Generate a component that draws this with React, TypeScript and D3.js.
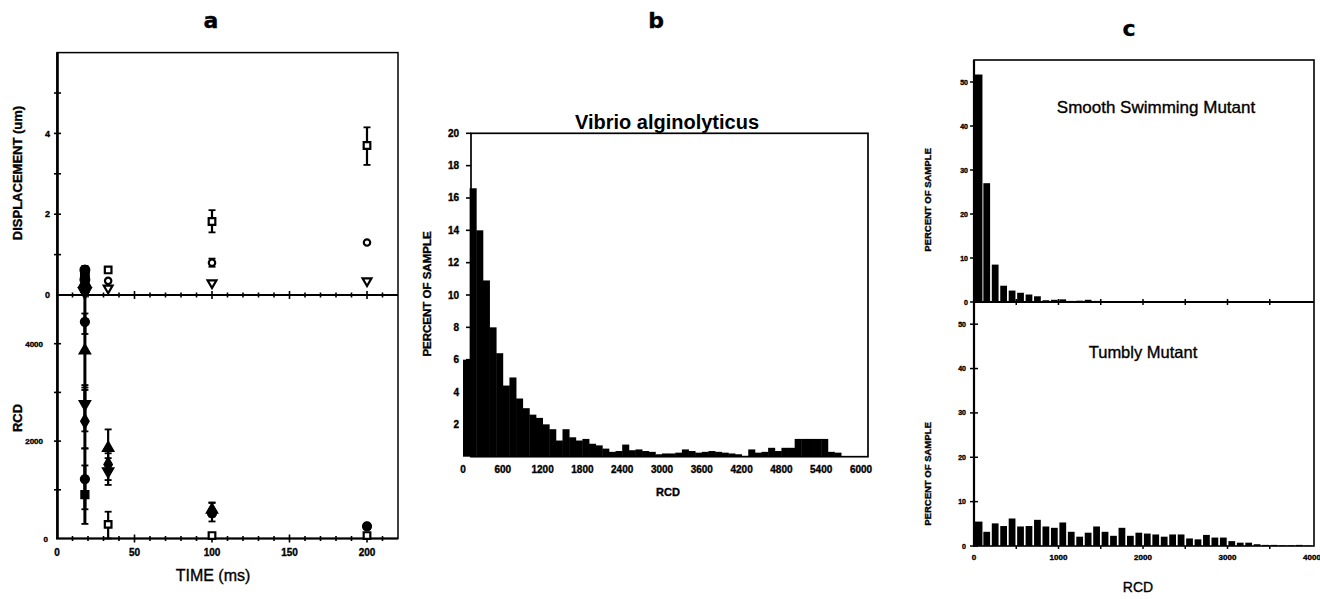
import React from 'react';
import * as d3 from 'd3';

// ---------- Panel a data ----------
const timeTicks = [0, 50, 100, 150, 200];
const timeMinorTicks = d3.range(10, 220, 10);
const dispTickLabels = [0, 2, 4];
const dispTicksAll = [1, 2, 3, 4, 5];
const rcdTickLabelsA = [0, 2000, 4000];
const rcdTicksAll = [1000, 2000, 3000, 4000];

// displacement, early filled cluster at t = 18 ms
const dispClusterT = [18, 18, 18, 18, 18, 18];
const dispClusterV = [0.62, 0.5, 0.38, 0.28, 0.18, 0.08];
const dispClusterShape = ['circle', 'square', 'circle', 'triangle', 'square', 'triangleDown'];
const dispClusterLo = [0, 0, 0, 0, 0, 0];
const dispClusterHi = [0.72, 0.6, 0.45, 0.35, 0.25, 0.12];

// displacement, open symbols
const dispSqT = [33, 100, 200];
const dispSqV = [0.62, 1.82, 3.7];
const dispSqLo = [0.62, 1.55, 3.22];
const dispSqHi = [0.62, 2.1, 4.15];
const dispCircT = [33, 100, 200];
const dispCircV = [0.35, 0.8, 1.3];
const dispCircLo = [0.35, 0.7, 1.3];
const dispCircHi = [0.35, 0.9, 1.3];
const dispTriT = [33, 100, 200];
const dispTriV = [0.17, 0.3, 0.35];

// RCD, filled symbols
const rcdCircT = [18, 18, 100, 200];
const rcdCircV = [4450, 1220, 520, 250];
const rcdCircLo = [4200, 600, 350, 200];
const rcdCircHi = [5000, 1850, 730, 300];
const rcdTriT = [18, 33, 100];
const rcdTriV = [3860, 1860, 590];
const rcdTriLo = [3100, 1500, 450];
const rcdTriHi = [4620, 2240, 740];
const rcdTriDT = [18, 33];
const rcdTriDV = [2760, 1380];
const rcdTriDLo = [2200, 1100];
const rcdTriDHi = [3150, 1650];
const rcdDiaT = [18, 33];
const rcdDiaV = [2410, 1520];
const rcdDiaLo = [1850, 1200];
const rcdDiaHi = [3050, 1750];
const rcdSqFT = [18];
const rcdSqFV = [900];
const rcdSqFLo = [300];
const rcdSqFHi = [1500];
// RCD, open squares
const rcdSqT = [33, 100, 200];
const rcdSqV = [290, 60, 60];
const rcdSqLo = [0, 0, 0];
const rcdSqHi = [550, 110, 110];

// ---------- Panel b data ----------
const vibrioTickLabelsX = [0, 600, 1200, 1800, 2400, 3000, 3600, 4200, 4800, 5400, 6000];
const vibrioTickLabelsY = [2, 4, 6, 8, 10, 12, 14, 16, 18, 20];
const vibrioBinWidth = 100;
const vibrioPercent = [
  6.0, 16.6, 14.0, 10.9, 8.0, 6.4, 4.4, 4.9, 3.6, 3.0,
  2.6, 2.4, 2.0, 1.7, 1.0, 1.7, 1.2, 1.0, 1.1, 0.8,
  0.7, 0.5, 0.3, 0.35, 0.75, 0.4, 0.45, 0.35, 0.3, 0.15,
  0.2, 0.2, 0.25, 0.45, 0.35, 0.25, 0.3, 0.35, 0.3, 0.25,
  0.2, 0.15, 0.05, 0.45, 0.25, 0.3, 0.55, 0.35, 0.55, 0.55,
  1.1, 1.1, 1.1, 1.1, 1.1, 0.3, 0.25,
];

// ---------- Panel c data ----------
const mutantTickLabelsX = [0, 1000, 2000, 3000, 4000];
const mutantTicksX = [500, 1000, 1500, 2000, 2500, 3000, 3500];
const mutantTickLabelsY = [0, 10, 20, 30, 40, 50];
const mutantBinWidth = 100;
const smoothPercent = [
  51.7, 27.0, 8.5, 3.7, 2.6, 2.1, 1.7, 1.3, 0.4, 0.5,
  0.6, 0.25, 0.3, 0.5, 0.25, 0.15, 0.1, 0.1, 0.05, 0.05,
];
const tumblyPercent = [
  5.5, 3.2, 5.1, 4.5, 6.2, 4.4, 4.5, 5.9, 4.4, 4.1,
  5.3, 3.2, 2.1, 3.0, 4.4, 3.2, 2.3, 4.1, 2.3, 3.0,
  2.8, 2.6, 2.1, 2.6, 2.6, 1.7, 1.5, 2.5, 1.9, 1.9,
  1.1, 0.75, 0.75, 0.4, 0.25, 0.25, 0.15, 0.15, 0.25, 0.1,
];

const SANS = 'Liberation Sans, Arial, Helvetica, sans-serif';
// slight outline on text to mimic the heavy scanned print
const INK = { stroke: '#000', strokeWidth: 0.35 } as any;

function symPath(shape: string, size: number) {
  const t =
    shape === 'circle' ? d3.symbolCircle :
    shape === 'square' ? d3.symbolSquare :
    shape === 'diamond' ? d3.symbolDiamond : d3.symbolTriangle;
  return d3.symbol().type(t).size(size)() as string;
}

function Marker({ x, y, shape, filled, size = 48 }: any) {
  const rot = shape === 'triangleDown' ? 180 : 0;
  return (
    <path
      d={symPath(shape, size)}
      transform={`translate(${x},${y}) rotate(${rot})`}
      fill={filled ? '#000' : '#fff'}
      stroke="#000"
      strokeWidth={filled ? 1.2 : 2.2}
    />
  );
}

function ErrBar({ x, y1, y2, w = 3.5, sw = 2.2 }: any) {
  if (Math.abs(y1 - y2) < 0.5) return null;
  return (
    <g stroke="#000" strokeWidth={sw}>
      <line x1={x} x2={x} y1={y1} y2={y2} />
      <line x1={x - w} x2={x + w} y1={y1} y2={y1} strokeWidth={1.8} />
      <line x1={x - w} x2={x + w} y1={y2} y2={y2} strokeWidth={1.8} />
    </g>
  );
}

function PanelA() {
  const x = d3.scaleLinear().domain([0, 220]).range([57, 398]);
  const yD = d3.scaleLinear().domain([0, 6]).range([295, 52.6]);
  const yR = d3.scaleLinear().domain([0, 5000]).range([538.5, 295]);

  const series = (
    ts: number[], vs: number[], lo: number[] | null, hi: number[] | null,
    y: any, shape: string | string[], filled: boolean, key: string, size = 48, sw = 2.2
  ) =>
    ts.map((t, i) => (
      <g key={key + i}>
        {lo && hi && <ErrBar x={x(t)} y1={y(lo[i])} y2={y(hi[i])} sw={t < 20 ? 3 : sw} />}
        <Marker x={x(t)} y={y(vs[i])} shape={Array.isArray(shape) ? shape[i] : shape} filled={filled} size={size} />
      </g>
    ));

  return (
    <g>
      <text x={211} y={28} textAnchor="middle" fontFamily="DejaVu Sans, sans-serif" fontWeight="bold" fontSize={22} {...INK}>a</text>
      {/* frame */}
      <rect x={57} y={52.6} width={341} height={485.9} fill="none" stroke="#000" strokeWidth={1.5} />
      <line x1={57.5} x2={57.5} y1={52.6} y2={539} stroke="#000" strokeWidth={2.6} />
      <line x1={56} x2={398} y1={295} y2={295} stroke="#000" strokeWidth={2} />
      <line x1={56} x2={398} y1={538.5} y2={538.5} stroke="#000" strokeWidth={2} />
      {/* x ticks on midline and bottom */}
      {timeMinorTicks.map((t) => {
        const big = t % 50 === 0;
        const h = big ? 4 : 2.5;
        return (
          <g key={'xt' + t} stroke="#000" strokeWidth={1.6}>
            <line x1={x(t)} x2={x(t)} y1={295 - h} y2={295 + h} />
            <line x1={x(t)} x2={x(t)} y1={538.5 - h} y2={538.5 + h} />
          </g>
        );
      })}
      {/* y ticks */}
      {dispTicksAll.map((v) => (
        <line key={'yd' + v} x1={54} x2={61} y1={yD(v)} y2={yD(v)} stroke="#000" strokeWidth={1.6} />
      ))}
      {rcdTicksAll.map((v) => (
        <line key={'yr' + v} x1={54} x2={61} y1={yR(v)} y2={yR(v)} stroke="#000" strokeWidth={1.6} />
      ))}
      {dispTickLabels.map((v) => (
        <text key={'ydl' + v} x={50} y={yD(v) + 3.2} textAnchor="end" fontFamily={SANS} fontWeight="bold" fontSize={9} {...INK}>{v}</text>
      ))}
      {rcdTickLabelsA.map((v) => (
        <text key={'yrl' + v} x={v === 0 ? 48 : 43} y={yR(v) + 3} textAnchor="end" fontFamily={SANS} fontWeight="bold" fontSize={8} {...INK}>{v}</text>
      ))}
      {timeTicks.map((t) => (
        <text key={'xl' + t} x={x(t)} y={555.5} textAnchor="middle" fontFamily={SANS} fontWeight="bold" fontSize={10} {...INK}>{t}</text>
      ))}
      <text x={213} y={581} textAnchor="middle" fontFamily={SANS} fontSize={16} {...INK}>TIME (ms)</text>
      <text transform="translate(22,173) rotate(-90)" textAnchor="middle" fontFamily={SANS} fontWeight="bold" fontSize={13} {...INK}>DISPLACEMENT (um)</text>
      <text transform="translate(22,418) rotate(-90)" textAnchor="middle" fontFamily={SANS} fontWeight="bold" fontSize={13} {...INK}>RCD</text>

      {/* displacement */}
      {series(dispClusterT, dispClusterV, dispClusterLo, dispClusterHi, yD, dispClusterShape, true, 'dc', 75)}
      {series(dispSqT, dispSqV, dispSqLo, dispSqHi, yD, 'square', false, 'ds', 44)}
      {series(dispCircT, dispCircV, dispCircLo, dispCircHi, yD, 'circle', false, 'dci', 32)}
      {series(dispTriT, dispTriV, null, null, yD, 'triangleDown', false, 'dt', 34)}

      {/* RCD */}
      {series(rcdSqFT, rcdSqFV, rcdSqFLo, rcdSqFHi, yR, 'square', true, 'rsf', 64)}
      {series(rcdCircT, rcdCircV, rcdCircLo, rcdCircHi, yR, 'circle', true, 'rc', 64)}
      {series(rcdTriT, rcdTriV, rcdTriLo, rcdTriHi, yR, 'triangle', true, 'rt', 60)}
      {series(rcdTriDT, rcdTriDV, rcdTriDLo, rcdTriDHi, yR, 'triangleDown', true, 'rtd', 60)}
      {series(rcdDiaT, rcdDiaV, rcdDiaLo, rcdDiaHi, yR, 'diamond', true, 'rd', 64)}
      {series(rcdSqT, rcdSqV, rcdSqLo, rcdSqHi, yR, 'square', false, 'rs', 44)}
    </g>
  );
}

function PanelB() {
  const x = d3.scaleLinear().domain([0, 6000]).range([463, 861]);
  const y = d3.scaleLinear().domain([0, 20]).range([456.7, 133.3]);
  return (
    <g>
      <text x={656} y={28} textAnchor="middle" fontFamily="DejaVu Sans, sans-serif" fontWeight="bold" fontSize={22} {...INK}>b</text>
      <text x={667} y={129} textAnchor="middle" fontFamily={SANS} fontWeight="bold" fontSize={20}>Vibrio alginolyticus</text>
      {vibrioPercent.map((v, i) => (
        <rect
          key={'vb' + i}
          x={x(i * vibrioBinWidth)}
          width={x((i + 1) * vibrioBinWidth) - x(i * vibrioBinWidth) + 0.4}
          y={y(v)}
          height={y(0) - y(v)}
          fill="#000"
        />
      ))}
      <rect x={471} y={133.3} width={397} height={323.4} fill="none" stroke="#000" strokeWidth={1.7} />
      {vibrioTickLabelsY.map((v) => (
        <g key={'vy' + v}>
          <line x1={466} x2={471} y1={y(v)} y2={y(v)} stroke="#000" strokeWidth={1.6} />
          <text x={459} y={y(v) + 3.5} textAnchor="end" fontFamily={SANS} fontWeight="bold" fontSize={10} {...INK}>{v}</text>
        </g>
      ))}
      {vibrioTickLabelsX.map((v) => (
        <text key={'vx' + v} x={x(v)} y={473} textAnchor="middle" fontFamily={SANS} fontWeight="bold" fontSize={10} {...INK}>{v}</text>
      ))}
      <text x={668} y={496} textAnchor="middle" fontFamily={SANS} fontWeight="bold" fontSize={11} {...INK}>RCD</text>
      <text transform="translate(431,294) rotate(-90)" textAnchor="middle" fontFamily={SANS} fontWeight="bold" fontSize={11.5} {...INK}>PERCENT OF SAMPLE</text>
    </g>
  );
}

function PanelC() {
  const x = d3.scaleLinear().domain([0, 4000]).range([974, 1312]);
  const yT = d3.scaleLinear().domain([0, 55]).range([302, 60]);
  const yB = d3.scaleLinear().domain([0, 55]).range([546, 302]);
  const bw = x(mutantBinWidth) - x(0);
  const bars = (vals: number[], y: any, key: string) =>
    vals.map((v, i) => (
      <rect
        key={key + i}
        x={x(i * mutantBinWidth) + (i === 0 ? 0 : 0.9)}
        width={i === 0 ? bw : bw * 0.8}
        y={y(v)}
        height={y(0) - y(v)}
        fill="#000"
      />
    ));
  return (
    <g>
      <text x={1129} y={36} textAnchor="middle" fontFamily="DejaVu Sans, sans-serif" fontWeight="bold" fontSize={22} {...INK}>c</text>
      {bars(smoothPercent, yT, 'sm')}
      {bars(tumblyPercent, yB, 'tu')}
      <rect x={974} y={60} width={340} height={486} fill="none" stroke="#000" strokeWidth={1.6} />
      <line x1={974} x2={974} y1={60} y2={547} stroke="#000" strokeWidth={2.2} />
      <line x1={974} x2={1314} y1={302} y2={302} stroke="#000" strokeWidth={1.8} />
      {mutantTicksX.map((v) => (
        <g key={'cx' + v} stroke="#000" strokeWidth={1.5}>
          <line x1={x(v)} x2={x(v)} y1={299} y2={305} />
          <line x1={x(v)} x2={x(v)} y1={546} y2={549} />
        </g>
      ))}
      {mutantTickLabelsY.map((v) => (
        <g key={'cy' + v}>
          <line x1={970} x2={974} y1={yT(v)} y2={yT(v)} stroke="#000" strokeWidth={1.5} />
          <line x1={970} x2={978} y1={yB(v)} y2={yB(v)} stroke="#000" strokeWidth={1.5} />
          <text x={968} y={yT(v) + 2.5} textAnchor="end" fontFamily={SANS} fontWeight="bold" fontSize={7} {...INK}>{v}</text>
          <text x={966} y={yB(v) + 2.5} textAnchor="end" fontFamily={SANS} fontWeight="bold" fontSize={7} {...INK}>{v}</text>
        </g>
      ))}
      {mutantTickLabelsX.map((v) => (
        <text key={'cxl' + v} x={x(v)} y={560} textAnchor="middle" fontFamily={SANS} fontWeight="bold" fontSize={8} {...INK}>{v}</text>
      ))}
      <text x={1156} y={113} textAnchor="middle" fontFamily={SANS} fontSize={17} {...INK}>Smooth Swimming Mutant</text>
      <text x={1143} y={358} textAnchor="middle" fontFamily={SANS} fontSize={16.5} {...INK}>Tumbly Mutant</text>
      <text x={1138} y={592} textAnchor="middle" fontFamily={SANS} fontSize={14} {...INK}>RCD</text>
      <text transform="translate(931,200) rotate(-90)" textAnchor="middle" fontFamily={SANS} fontWeight="bold" fontSize={9.5} {...INK}>PERCENT OF SAMPLE</text>
      <text transform="translate(931,474) rotate(-90)" textAnchor="middle" fontFamily={SANS} fontWeight="bold" fontSize={9.5} {...INK}>PERCENT OF SAMPLE</text>
    </g>
  );
}

export default function App() {
  return (
    <svg
      width={1320}
      height={599}
      viewBox="0 0 1320 599"
      style={{ position: 'absolute', left: 0, top: 0, background: '#fff' }}
    >
      <rect x={0} y={0} width={1320} height={599} fill="#fff" />
      <PanelA />
      <PanelB />
      <PanelC />
    </svg>
  );
}
